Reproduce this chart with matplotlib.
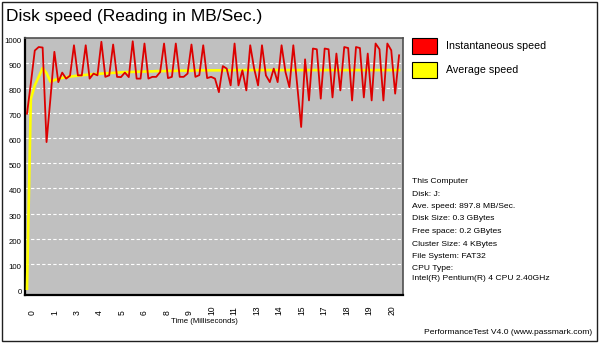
import numpy as np
import matplotlib
matplotlib.use("Agg")
import matplotlib.pyplot as plt
from matplotlib.patches import Rectangle

# ---- data ----
instant_speed = [698, 820, 950, 964, 962, 585, 760, 945, 824, 862,
                 838, 850, 971, 851, 851, 971, 838, 858, 851, 985,
                 845, 851, 974, 845, 844, 862, 844, 987, 838, 838,
                 978, 838, 845, 845, 864, 978, 840, 845, 978, 845,
                 845, 858, 974, 845, 852, 971, 840, 845, 838, 784,
                 888, 878, 811, 978, 811, 871, 791, 971, 878, 811,
                 971, 851, 824, 878, 824, 971, 864, 804, 971, 811,
                 645, 915, 751, 958, 955, 758, 958, 955, 763, 938,
                 791, 964, 960, 751, 964, 960, 763, 938, 751, 978,
                 955, 751, 978, 951, 778, 931]
average_speed = [0, 758, 811, 845, 880, 860, 826, 832, 838, 841,
                 844, 846, 848, 850, 851, 853, 854, 856, 857, 858,
                 859, 860, 861, 862, 863, 864, 864, 865, 865, 866,
                 866, 867, 867, 868, 868, 868, 869, 869, 869, 870,
                 870, 870, 870, 871, 871, 871, 871, 871, 871, 871,
                 871, 871, 871, 872, 872, 872, 872, 872, 872, 872,
                 872, 872, 872, 872, 872, 872, 872, 872, 872, 872,
                 872, 872, 872, 872, 872, 872, 872, 872, 872, 872,
                 872, 872, 872, 872, 872, 872, 872, 872, 872, 872,
                 872, 872, 872, 872, 872, 872]
time_labels = ["0", "1", "3", "4", "5", "6", "8", "9", "10", "11",
               "13", "14", "15", "17", "18", "19", "20"]
y_ticks = [0, 100, 200, 300, 400, 500, 600, 700, 800, 900, 1000]
legend_labels = ["Instantaneous speed", "Average speed"]
info_lines = ["This Computer", "Disk: J:", "Ave. speed: 897.8 MB/Sec.",
              "Disk Size: 0.3 GBytes", "Free space: 0.2 GBytes",
              "Cluster Size: 4 KBytes", "File System: FAT32", "CPU Type:",
              "Intel(R) Pentium(R) 4 CPU 2.40GHz"]

plt.rcParams['font.family'] = ['Liberation Sans', 'DejaVu Sans']

W, H = 600, 343
fig = plt.figure(figsize=(6, 3.43), dpi=100, facecolor='white')

def fx(px):
    return px / W

def fy(py):
    return 1 - py / H

# outer frame
fig.patches.append(Rectangle((fx(1.5), fy(341)), fx(595.5), 339.5 / H,
                             transform=fig.transFigure, fill=False,
                             edgecolor='#202020', linewidth=1.0))

# title
fig.text(fx(6), fy(20.5), "Disk speed (Reading in MB/Sec.)", fontsize=12.5,
         ha='left', va='baseline', color='black')

# axes
ax = fig.add_axes([fx(25), fy(295), fx(403) - fx(25), (295 - 38) / H])
ax.set_facecolor('#C0C0C0')
idx = np.arange(len(instant_speed))
ax.plot(np.arange(len(average_speed)), average_speed, color='#FFFF00',
        lw=1.9, zorder=3, solid_joinstyle='round')
ax.plot(idx, instant_speed, color='#DD0000', lw=1.3, zorder=4)
ax.set_xlim(-0.5, 96)
ax.set_ylim(-25, 1000)

for y in y_ticks[1:-1]:
    ax.axhline(y, color='white', lw=0.8, ls=(0, (3, 2)), zorder=1)

ax.set_yticks(y_ticks)
ax.set_yticklabels([str(v) for v in y_ticks], fontsize=5.6)
ax.tick_params(axis='y', length=0, pad=2.5)
plt.setp(ax.get_yticklabels(), va='top')

tick_pos = [1.28 + 5.74 * k for k in range(len(time_labels))]
ax.set_xticks(tick_pos)
ax.set_xticklabels(time_labels, fontsize=6.2, rotation=90)
ax.tick_params(axis='x', length=0, pad=14.4)
plt.setp(ax.get_xticklabels(), va='bottom', ha='center')

for s in ['left', 'bottom']:
    ax.spines[s].set_color('black')
    ax.spines[s].set_linewidth(1.6)
for s in ['top', 'right']:
    ax.spines[s].set_color('#505050')
    ax.spines[s].set_linewidth(1.2)

fig.text(fx(204), fy(321.5), "Time (Milliseconds)", fontsize=5.6,
         ha='center', va='center')

# legend
colors = ['#FF0000', '#FFFF00']
box_top = [37.7, 62.3]
for lab, c, t in zip(legend_labels, colors, box_top):
    fig.patches.append(Rectangle((fx(412), fy(t + 16)), fx(25), 16 / H,
                                 transform=fig.transFigure, facecolor=c,
                                 edgecolor='black', linewidth=0.8))
    fig.text(fx(446), fy(t + 8), lab, fontsize=7.7, ha='left', va='center')

# info block
info_y = [181.7, 194, 206.3, 219, 231.7, 244, 256.7, 269, 279]
for line, y in zip(info_lines, info_y):
    fig.text(fx(412), fy(y), line, fontsize=6.1, ha='left', va='center')

fig.text(fx(592), fy(332), "PerformanceTest V4.0 (www.passmark.com)",
         fontsize=6.1, ha='right', va='center')

fig.savefig("out.png", dpi=100, facecolor='white')
